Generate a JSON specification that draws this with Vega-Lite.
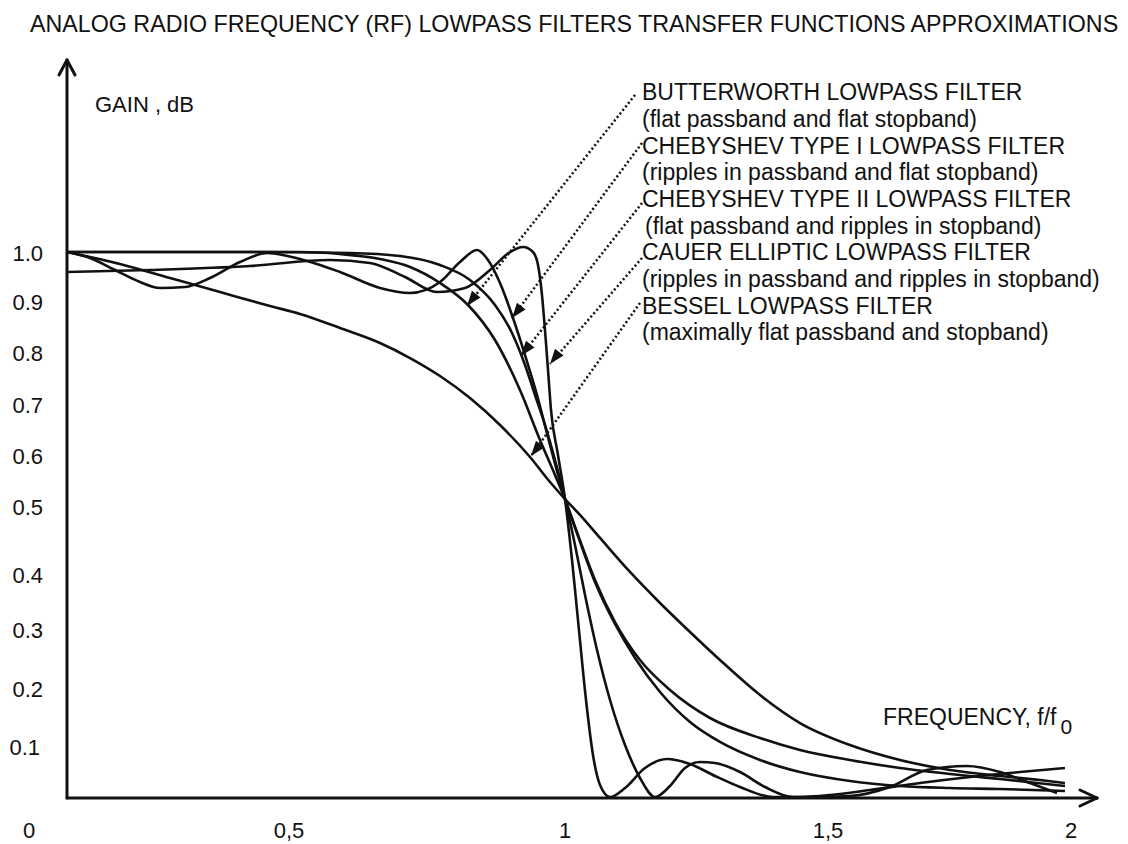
{
  "$schema": "https://vega.github.io/schema/vega-lite/v6.json",
  "width": 1128,
  "height": 844,
  "autosize": {"type": "none"},
  "padding": 0,
  "background": "white",
  "config": {
    "view": {"stroke": null},
    "font": "Liberation Sans"
  },
  "datasets": {
    "frame": [
      {"f1": 0, "g1": 0, "f2": 2.0683, "g2": 0},
      {"f1": 0, "g1": 0, "f2": 0, "g2": 1.3541},
      {"f1": 2.0341, "g1": 0.0147, "f2": 2.0683, "g2": 0},
      {"f1": 2.0341, "g1": -0.0147, "f2": 2.0683, "g2": 0},
      {"f1": -0.0161, "g1": 1.3266, "f2": 0, "g2": 1.3541},
      {"f1": 0.0161, "g1": 1.3266, "f2": 0, "g2": 1.3541}
    ],
    "ticklabels": [
      {"axis": "y", "t": "1.0", "f": -0.0482, "g": 0.9982},
      {"axis": "y", "t": "0.9", "f": -0.0482, "g": 0.9083},
      {"axis": "y", "t": "0.8", "f": -0.0482, "g": 0.8147},
      {"axis": "y", "t": "0.7", "f": -0.0482, "g": 0.7193},
      {"axis": "y", "t": "0.6", "f": -0.0482, "g": 0.6257},
      {"axis": "y", "t": "0.5", "f": -0.0482, "g": 0.5321},
      {"axis": "y", "t": "0.4", "f": -0.0482, "g": 0.4073},
      {"axis": "y", "t": "0.3", "f": -0.0482, "g": 0.3064},
      {"axis": "y", "t": "0.2", "f": -0.0482, "g": 0.1982},
      {"axis": "y", "t": "0.1", "f": -0.0542, "g": 0.0917},
      {"axis": "x", "t": "0", "f": -0.0763, "g": -0.0606},
      {"axis": "x", "t": "0,5", "f": 0.4458, "g": -0.0606},
      {"axis": "x", "t": "1", "f": 1.0, "g": -0.0606},
      {"axis": "x", "t": "1,5", "f": 1.5281, "g": -0.0606},
      {"axis": "x", "t": "2", "f": 2.0161, "g": -0.0606}
    ],
    "curves": [
      {"curve": "Bessel", "f": 0, "g": 1.0018},
      {"curve": "Bessel", "f": 0.1064, "g": 0.9798},
      {"curve": "Bessel", "f": 0.2068, "g": 0.9541},
      {"curve": "Bessel", "f": 0.3072, "g": 0.9284},
      {"curve": "Bessel", "f": 0.4076, "g": 0.9028},
      {"curve": "Bessel", "f": 0.4679, "g": 0.8881},
      {"curve": "Bessel", "f": 0.5482, "g": 0.8624},
      {"curve": "Bessel", "f": 0.6285, "g": 0.8349},
      {"curve": "Bessel", "f": 0.6888, "g": 0.8073},
      {"curve": "Bessel", "f": 0.749, "g": 0.7743},
      {"curve": "Bessel", "f": 0.8092, "g": 0.7339},
      {"curve": "Bessel", "f": 0.8695, "g": 0.6844},
      {"curve": "Bessel", "f": 0.9297, "g": 0.6257},
      {"curve": "Bessel", "f": 0.9699, "g": 0.5798},
      {"curve": "Bessel", "f": 1.0, "g": 0.5486},
      {"curve": "Bessel", "f": 1.0301, "g": 0.5193},
      {"curve": "Bessel", "f": 1.0703, "g": 0.4771},
      {"curve": "Bessel", "f": 1.1305, "g": 0.4147},
      {"curve": "Bessel", "f": 1.1908, "g": 0.3578},
      {"curve": "Bessel", "f": 1.251, "g": 0.3046},
      {"curve": "Bessel", "f": 1.3112, "g": 0.2532},
      {"curve": "Bessel", "f": 1.3916, "g": 0.189},
      {"curve": "Bessel", "f": 1.4719, "g": 0.1376},
      {"curve": "Bessel", "f": 1.5723, "g": 0.0972},
      {"curve": "Bessel", "f": 1.6727, "g": 0.0697},
      {"curve": "Bessel", "f": 1.7731, "g": 0.0514},
      {"curve": "Bessel", "f": 1.8735, "g": 0.0404},
      {"curve": "Bessel", "f": 1.9538, "g": 0.033},
      {"curve": "Bessel", "f": 2.004, "g": 0.0275},

      {"curve": "Butterworth", "f": 0, "g": 1.0018},
      {"curve": "Butterworth", "f": 0.2671, "g": 1.0018},
      {"curve": "Butterworth", "f": 0.4679, "g": 1.0018},
      {"curve": "Butterworth", "f": 0.5482, "g": 0.9982},
      {"curve": "Butterworth", "f": 0.6285, "g": 0.989},
      {"curve": "Butterworth", "f": 0.6888, "g": 0.9743},
      {"curve": "Butterworth", "f": 0.749, "g": 0.945},
      {"curve": "Butterworth", "f": 0.8052, "g": 0.9046},
      {"curve": "Butterworth", "f": 0.8594, "g": 0.8404},
      {"curve": "Butterworth", "f": 0.9096, "g": 0.7486},
      {"curve": "Butterworth", "f": 0.9498, "g": 0.6569},
      {"curve": "Butterworth", "f": 0.9799, "g": 0.5927},
      {"curve": "Butterworth", "f": 1.0, "g": 0.5486},
      {"curve": "Butterworth", "f": 1.0261, "g": 0.4826},
      {"curve": "Butterworth", "f": 1.0602, "g": 0.4},
      {"curve": "Butterworth", "f": 1.1004, "g": 0.3229},
      {"curve": "Butterworth", "f": 1.1506, "g": 0.2532},
      {"curve": "Butterworth", "f": 1.2108, "g": 0.1982},
      {"curve": "Butterworth", "f": 1.2912, "g": 0.1468},
      {"curve": "Butterworth", "f": 1.3916, "g": 0.1101},
      {"curve": "Butterworth", "f": 1.4719, "g": 0.0881},
      {"curve": "Butterworth", "f": 1.5723, "g": 0.0697},
      {"curve": "Butterworth", "f": 1.6727, "g": 0.055},
      {"curve": "Butterworth", "f": 1.7731, "g": 0.044},
      {"curve": "Butterworth", "f": 1.8735, "g": 0.0349},
      {"curve": "Butterworth", "f": 2.004, "g": 0.022},

      {"curve": "Chebyshev I", "f": 0, "g": 1.0018},
      {"curve": "Chebyshev I", "f": 0.0462, "g": 0.9908},
      {"curve": "Chebyshev I", "f": 0.0964, "g": 0.9688},
      {"curve": "Chebyshev I", "f": 0.1466, "g": 0.9468},
      {"curve": "Chebyshev I", "f": 0.1867, "g": 0.9358},
      {"curve": "Chebyshev I", "f": 0.2369, "g": 0.9376},
      {"curve": "Chebyshev I", "f": 0.2871, "g": 0.9541},
      {"curve": "Chebyshev I", "f": 0.3474, "g": 0.9835},
      {"curve": "Chebyshev I", "f": 0.4016, "g": 1.0},
      {"curve": "Chebyshev I", "f": 0.4679, "g": 0.989},
      {"curve": "Chebyshev I", "f": 0.5482, "g": 0.9651},
      {"curve": "Chebyshev I", "f": 0.6285, "g": 0.9358},
      {"curve": "Chebyshev I", "f": 0.6888, "g": 0.9266},
      {"curve": "Chebyshev I", "f": 0.749, "g": 0.9468},
      {"curve": "Chebyshev I", "f": 0.7892, "g": 0.9835},
      {"curve": "Chebyshev I", "f": 0.8233, "g": 1.0055},
      {"curve": "Chebyshev I", "f": 0.8454, "g": 0.9872},
      {"curve": "Chebyshev I", "f": 0.8695, "g": 0.945},
      {"curve": "Chebyshev I", "f": 0.8956, "g": 0.8807},
      {"curve": "Chebyshev I", "f": 0.9197, "g": 0.8128},
      {"curve": "Chebyshev I", "f": 0.9438, "g": 0.7394},
      {"curve": "Chebyshev I", "f": 0.9699, "g": 0.6477},
      {"curve": "Chebyshev I", "f": 1.0, "g": 0.5486},
      {"curve": "Chebyshev I", "f": 1.0261, "g": 0.4807},
      {"curve": "Chebyshev I", "f": 1.0602, "g": 0.3963},
      {"curve": "Chebyshev I", "f": 1.1004, "g": 0.3193},
      {"curve": "Chebyshev I", "f": 1.1406, "g": 0.2569},
      {"curve": "Chebyshev I", "f": 1.1908, "g": 0.1945},
      {"curve": "Chebyshev I", "f": 1.251, "g": 0.1394},
      {"curve": "Chebyshev I", "f": 1.3112, "g": 0.1028},
      {"curve": "Chebyshev I", "f": 1.3916, "g": 0.0697},
      {"curve": "Chebyshev I", "f": 1.4719, "g": 0.0477},
      {"curve": "Chebyshev I", "f": 1.5723, "g": 0.0312},
      {"curve": "Chebyshev I", "f": 1.6727, "g": 0.022},
      {"curve": "Chebyshev I", "f": 1.7731, "g": 0.0183},
      {"curve": "Chebyshev I", "f": 1.8735, "g": 0.0165},
      {"curve": "Chebyshev I", "f": 2.004, "g": 0.0128},

      {"curve": "Chebyshev II", "f": 0, "g": 1.0018},
      {"curve": "Chebyshev II", "f": 0.3675, "g": 1.0018},
      {"curve": "Chebyshev II", "f": 0.5683, "g": 1.0},
      {"curve": "Chebyshev II", "f": 0.6687, "g": 0.9945},
      {"curve": "Chebyshev II", "f": 0.749, "g": 0.978},
      {"curve": "Chebyshev II", "f": 0.8092, "g": 0.9505},
      {"curve": "Chebyshev II", "f": 0.8594, "g": 0.9046},
      {"curve": "Chebyshev II", "f": 0.8936, "g": 0.8532},
      {"curve": "Chebyshev II", "f": 0.9197, "g": 0.7945},
      {"curve": "Chebyshev II", "f": 0.9398, "g": 0.7394},
      {"curve": "Chebyshev II", "f": 0.9598, "g": 0.6844},
      {"curve": "Chebyshev II", "f": 0.9799, "g": 0.6202},
      {"curve": "Chebyshev II", "f": 1.0, "g": 0.5486},
      {"curve": "Chebyshev II", "f": 1.0201, "g": 0.4642},
      {"curve": "Chebyshev II", "f": 1.0402, "g": 0.3725},
      {"curve": "Chebyshev II", "f": 1.0643, "g": 0.2716},
      {"curve": "Chebyshev II", "f": 1.0904, "g": 0.1798},
      {"curve": "Chebyshev II", "f": 1.1205, "g": 0.0972},
      {"curve": "Chebyshev II", "f": 1.1506, "g": 0.0367},
      {"curve": "Chebyshev II", "f": 1.1807, "g": 0.0018},
      {"curve": "Chebyshev II", "f": 1.2108, "g": 0.022},
      {"curve": "Chebyshev II", "f": 1.241, "g": 0.055},
      {"curve": "Chebyshev II", "f": 1.2711, "g": 0.0661},
      {"curve": "Chebyshev II", "f": 1.3012, "g": 0.0642},
      {"curve": "Chebyshev II", "f": 1.3514, "g": 0.0477},
      {"curve": "Chebyshev II", "f": 1.4016, "g": 0.0202},
      {"curve": "Chebyshev II", "f": 1.4578, "g": 0.0018},
      {"curve": "Chebyshev II", "f": 1.5321, "g": 0.0055},
      {"curve": "Chebyshev II", "f": 1.6124, "g": 0.0147},
      {"curve": "Chebyshev II", "f": 1.7129, "g": 0.0275},
      {"curve": "Chebyshev II", "f": 1.8133, "g": 0.0385},
      {"curve": "Chebyshev II", "f": 1.9137, "g": 0.0477},
      {"curve": "Chebyshev II", "f": 2.004, "g": 0.055},

      {"curve": "Cauer", "f": 0, "g": 0.9651},
      {"curve": "Cauer", "f": 0.1667, "g": 0.9688},
      {"curve": "Cauer", "f": 0.3675, "g": 0.9761},
      {"curve": "Cauer", "f": 0.5281, "g": 0.9872},
      {"curve": "Cauer", "f": 0.6084, "g": 0.9817},
      {"curve": "Cauer", "f": 0.6787, "g": 0.956},
      {"curve": "Cauer", "f": 0.743, "g": 0.9284},
      {"curve": "Cauer", "f": 0.7992, "g": 0.9358},
      {"curve": "Cauer", "f": 0.8494, "g": 0.9688},
      {"curve": "Cauer", "f": 0.8896, "g": 1.0018},
      {"curve": "Cauer", "f": 0.9157, "g": 1.011},
      {"curve": "Cauer", "f": 0.9357, "g": 1.0018},
      {"curve": "Cauer", "f": 0.9458, "g": 0.978},
      {"curve": "Cauer", "f": 0.9538, "g": 0.9229},
      {"curve": "Cauer", "f": 0.9598, "g": 0.8587},
      {"curve": "Cauer", "f": 0.9659, "g": 0.7853},
      {"curve": "Cauer", "f": 0.9719, "g": 0.7119},
      {"curve": "Cauer", "f": 0.9859, "g": 0.6294},
      {"curve": "Cauer", "f": 1.0, "g": 0.5486},
      {"curve": "Cauer", "f": 1.0141, "g": 0.4367},
      {"curve": "Cauer", "f": 1.0261, "g": 0.3266},
      {"curve": "Cauer", "f": 1.0422, "g": 0.1798},
      {"curve": "Cauer", "f": 1.0562, "g": 0.0789},
      {"curve": "Cauer", "f": 1.0703, "g": 0.0239},
      {"curve": "Cauer", "f": 1.0904, "g": 0.0018},
      {"curve": "Cauer", "f": 1.1205, "g": 0.0183},
      {"curve": "Cauer", "f": 1.1606, "g": 0.055},
      {"curve": "Cauer", "f": 1.2048, "g": 0.0716},
      {"curve": "Cauer", "f": 1.251, "g": 0.0624},
      {"curve": "Cauer", "f": 1.3012, "g": 0.0404},
      {"curve": "Cauer", "f": 1.3514, "g": 0.0202},
      {"curve": "Cauer", "f": 1.4177, "g": 0.0018},
      {"curve": "Cauer", "f": 1.492, "g": 0.0018},
      {"curve": "Cauer", "f": 1.5723, "g": 0.0037},
      {"curve": "Cauer", "f": 1.6526, "g": 0.0202},
      {"curve": "Cauer", "f": 1.7269, "g": 0.0514},
      {"curve": "Cauer", "f": 1.8072, "g": 0.0587},
      {"curve": "Cauer", "f": 1.8735, "g": 0.0477},
      {"curve": "Cauer", "f": 1.9337, "g": 0.0275},
      {"curve": "Cauer", "f": 1.988, "g": 0.0092}
    ],
    "arrows": [
      {"curve": "Butterworth", "f1": 1.1406, "g1": 1.2899, "f2": 0.8032, "g2": 0.9028},
      {"curve": "Chebyshev I", "f1": 1.1546, "g1": 1.2018, "f2": 0.8936, "g2": 0.8807},
      {"curve": "Chebyshev II", "f1": 1.1546, "g1": 1.0917, "f2": 0.9116, "g2": 0.811},
      {"curve": "Cauer", "f1": 1.1546, "g1": 0.9908, "f2": 0.9699, "g2": 0.7963},
      {"curve": "Bessel", "f1": 1.1506, "g1": 0.9083, "f2": 0.9317, "g2": 0.6275}
    ],
    "notes": [
      {"kind": "title", "t": "ANALOG RADIO FREQUENCY (RF) LOWPASS FILTERS TRANSFER FUNCTIONS APPROXIMATIONS", "f": -0.0743, "g": 1.4183},
      {"kind": "big", "t": "BUTTERWORTH LOWPASS FILTER", "f": 1.1546, "g": 1.2936},
      {"kind": "big", "t": "(flat passband and flat stopband)", "f": 1.1546, "g": 1.244},
      {"kind": "big", "t": "CHEBYSHEV TYPE I LOWPASS FILTER", "f": 1.1546, "g": 1.1945},
      {"kind": "big", "t": "(ripples in passband and flat stopband)", "f": 1.1546, "g": 1.1468},
      {"kind": "big", "t": "CHEBYSHEV TYPE II LOWPASS FILTER", "f": 1.1546, "g": 1.0972},
      {"kind": "big", "t": "(flat passband and ripples in stopband)", "f": 1.1606, "g": 1.0477},
      {"kind": "big", "t": "CAUER ELLIPTIC LOWPASS FILTER", "f": 1.1546, "g": 1.0},
      {"kind": "big", "t": "(ripples in passband and ripples in stopband)", "f": 1.1546, "g": 0.9505},
      {"kind": "big", "t": "BESSEL LOWPASS FILTER", "f": 1.1546, "g": 0.9009},
      {"kind": "big", "t": "(maximally flat passband and stopband)", "f": 1.1546, "g": 0.8532},
      {"kind": "big", "t": "FREQUENCY, f/f", "f": 1.6386, "g": 0.1468},
      {"kind": "mid", "t": "GAIN , dB", "f": 0.0562, "g": 1.2716},
      {"kind": "sub", "t": "0", "f": 1.995, "g": 0.1284}
    ]
  },
  "layer": [
    {
      "data": {"name": "frame"},
      "mark": {"type": "rule", "strokeWidth": 3, "color": "#111", "strokeCap": "round"},
      "encoding": {
        "x": {"field": "f1", "type": "quantitative", "scale": {"domain": [-0.134538, 2.130522], "nice": false, "zero": false}, "axis": null},
        "y": {"field": "g1", "type": "quantitative", "scale": {"domain": [-0.084404, 1.46422], "nice": false, "zero": false}, "axis": null},
        "x2": {"field": "f2"},
        "y2": {"field": "g2"}
      }
    },
    {
      "data": {"name": "curves"},
      "mark": {"type": "line", "interpolate": "monotone", "strokeWidth": 2.6, "color": "#111"},
      "encoding": {
        "x": {"field": "f", "type": "quantitative", "scale": {"domain": [-0.134538, 2.130522], "nice": false, "zero": false}, "axis": null},
        "y": {"field": "g", "type": "quantitative", "scale": {"domain": [-0.084404, 1.46422], "nice": false, "zero": false}, "axis": null},
        "detail": {"field": "curve", "type": "nominal"}
      }
    },
    {
      "data": {"name": "arrows"},
      "mark": {"type": "rule", "strokeWidth": 2.5, "strokeDash": [2, 2.5], "color": "#111"},
      "encoding": {
        "x": {"field": "f1", "type": "quantitative", "scale": {"domain": [-0.134538, 2.130522], "nice": false, "zero": false}, "axis": null},
        "y": {"field": "g1", "type": "quantitative", "scale": {"domain": [-0.084404, 1.46422], "nice": false, "zero": false}, "axis": null},
        "x2": {"field": "f2"},
        "y2": {"field": "g2"}
      }
    },
    {
      "data": {"name": "arrows"},
      "mark": {"type": "point", "shape": "M0,0L0.36,1L-0.36,1Z", "size": 900, "angle": -142, "filled": true, "color": "#111", "opacity": 1, "strokeWidth": 0},
      "encoding": {
        "x": {"field": "f2", "type": "quantitative", "scale": {"domain": [-0.134538, 2.130522], "nice": false, "zero": false}, "axis": null},
        "y": {"field": "g2", "type": "quantitative", "scale": {"domain": [-0.084404, 1.46422], "nice": false, "zero": false}, "axis": null}
      }
    },
    {
      "data": {"name": "ticklabels"},
      "transform": [{"filter": "datum.axis === 'y'"}],
      "mark": {"type": "text", "align": "right", "baseline": "middle", "fontSize": 22, "font": "Liberation Sans", "color": "#111"},
      "encoding": {
        "x": {"field": "f", "type": "quantitative", "scale": {"domain": [-0.134538, 2.130522], "nice": false, "zero": false}, "axis": null},
        "y": {"field": "g", "type": "quantitative", "scale": {"domain": [-0.084404, 1.46422], "nice": false, "zero": false}, "axis": null},
        "text": {"field": "t"}
      }
    },
    {
      "data": {"name": "ticklabels"},
      "transform": [{"filter": "datum.axis === 'x'"}],
      "mark": {"type": "text", "align": "center", "baseline": "middle", "fontSize": 22, "font": "Liberation Sans", "color": "#111"},
      "encoding": {
        "x": {"field": "f", "type": "quantitative", "scale": {"domain": [-0.134538, 2.130522], "nice": false, "zero": false}, "axis": null},
        "y": {"field": "g", "type": "quantitative", "scale": {"domain": [-0.084404, 1.46422], "nice": false, "zero": false}, "axis": null},
        "text": {"field": "t"}
      }
    },
    {
      "data": {"name": "notes"},
      "transform": [{"filter": "datum.kind === 'title'"}],
      "mark": {"type": "text", "align": "left", "baseline": "middle", "fontSize": 23.25, "font": "Liberation Sans", "color": "#111"},
      "encoding": {
        "x": {"field": "f", "type": "quantitative", "scale": {"domain": [-0.134538, 2.130522], "nice": false, "zero": false}, "axis": null},
        "y": {"field": "g", "type": "quantitative", "scale": {"domain": [-0.084404, 1.46422], "nice": false, "zero": false}, "axis": null},
        "text": {"field": "t"}
      }
    },
    {
      "data": {"name": "notes"},
      "transform": [{"filter": "datum.kind === 'big'"}],
      "mark": {"type": "text", "align": "left", "baseline": "middle", "fontSize": 23, "font": "Liberation Sans", "color": "#111"},
      "encoding": {
        "x": {"field": "f", "type": "quantitative", "scale": {"domain": [-0.134538, 2.130522], "nice": false, "zero": false}, "axis": null},
        "y": {"field": "g", "type": "quantitative", "scale": {"domain": [-0.084404, 1.46422], "nice": false, "zero": false}, "axis": null},
        "text": {"field": "t"}
      }
    },
    {
      "data": {"name": "notes"},
      "transform": [{"filter": "datum.kind === 'mid'"}],
      "mark": {"type": "text", "align": "left", "baseline": "middle", "fontSize": 22, "font": "Liberation Sans", "color": "#111"},
      "encoding": {
        "x": {"field": "f", "type": "quantitative", "scale": {"domain": [-0.134538, 2.130522], "nice": false, "zero": false}, "axis": null},
        "y": {"field": "g", "type": "quantitative", "scale": {"domain": [-0.084404, 1.46422], "nice": false, "zero": false}, "axis": null},
        "text": {"field": "t"}
      }
    },
    {
      "data": {"name": "notes"},
      "transform": [{"filter": "datum.kind === 'sub'"}],
      "mark": {"type": "text", "align": "left", "baseline": "middle", "fontSize": 21, "font": "Liberation Sans", "color": "#111"},
      "encoding": {
        "x": {"field": "f", "type": "quantitative", "scale": {"domain": [-0.134538, 2.130522], "nice": false, "zero": false}, "axis": null},
        "y": {"field": "g", "type": "quantitative", "scale": {"domain": [-0.084404, 1.46422], "nice": false, "zero": false}, "axis": null},
        "text": {"field": "t"}
      }
    }
  ]
}
